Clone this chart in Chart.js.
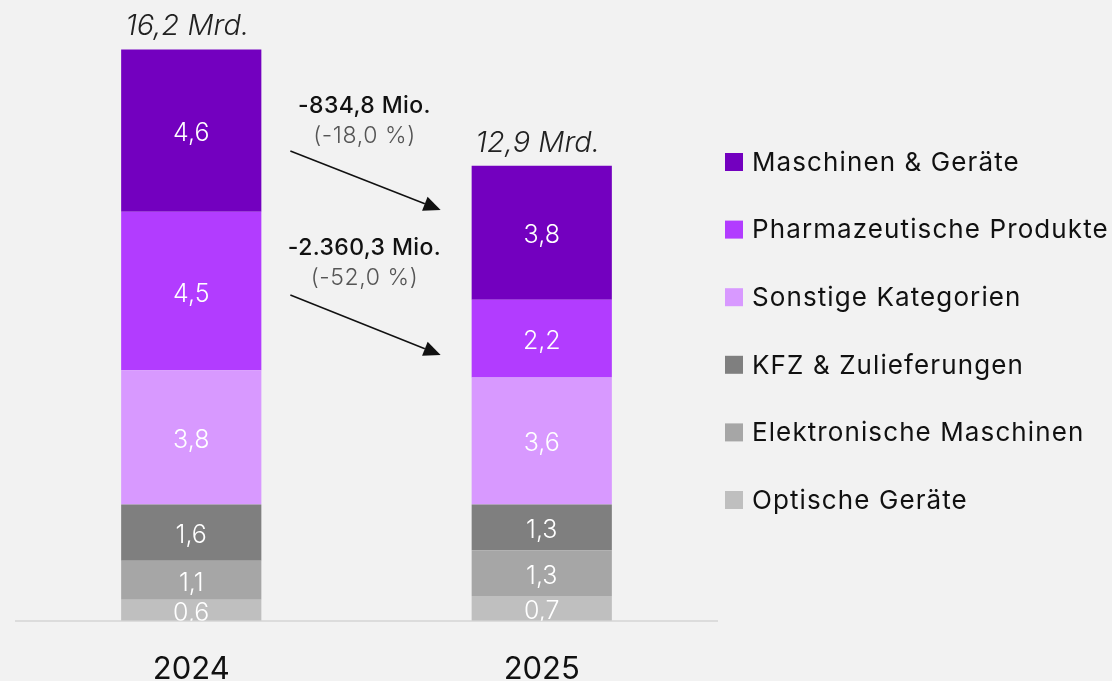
<!DOCTYPE html>
<html>
<head>
<meta charset="utf-8">
<script src="https://cdn.jsdelivr.net/npm/chart.js@4"></script>
<style>
  html, body { margin: 0; padding: 0; background: #f2f2f2; overflow: hidden; }
  #wrap { position: absolute; left: 0; top: 0; width: 1112px; height: 728px; }
</style>
</head>
<body>
<div id="wrap"><canvas id="c" width="1112" height="728"></canvas></div>
<script>
// ---- Data (values in Mrd. EUR) ----
const categories = ['2024', '2025'];
const optischeGeraete = [0.6, 0.7];
const elektronischeMaschinen = [1.1, 1.3];
const kfzZulieferungen = [1.6, 1.3];
const sonstigeKategorien = [3.8, 3.6];
const pharmaProdukte = [4.5, 2.2];
const maschinenGeraete = [4.6, 3.8];

const seriesLabels = ['Optische Geräte', 'Elektronische Maschinen', 'KFZ & Zulieferungen',
                      'Sonstige Kategorien', 'Pharmazeutische Produkte', 'Maschinen & Geräte'];
const seriesColors = ['#bfbfbf', '#a6a6a6', '#7f7f7f', '#d899ff', '#b23cff', '#7300bf'];

const changeAmounts = ['-834,8 Mio.', '-2.360,3 Mio.'];
const changePercents = ['(-18,0 %)', '(-52,0 %)'];

const seriesValues = [optischeGeraete, elektronischeMaschinen, kfzZulieferungen,
                      sonstigeKategorien, pharmaProdukte, maschinenGeraete];

const fmt = v => v.toFixed(1).replace('.', ',');

const datasets = seriesValues.map((vals, i) => ({
  label: seriesLabels[i],
  data: vals,
  backgroundColor: seriesColors[i],
  borderWidth: 0,
  categoryPercentage: 1.0,
  barPercentage: 0.4
}));

// Segment value labels + totals
const segmentLabels = {
  id: 'segmentLabels',
  afterDatasetsDraw(chart) {
    const ctx = chart.ctx, area = chart.chartArea;
    ctx.save();
    ctx.beginPath();
    ctx.rect(area.left, area.top, area.right - area.left, area.bottom - area.top);
    ctx.clip();
    ctx.font = '300 25px Inter';
    ctx.fillStyle = '#ffffff';
    ctx.textAlign = 'center';
    ctx.textBaseline = 'middle';
    chart.data.datasets.forEach((ds, di) => {
      const meta = chart.getDatasetMeta(di);
      meta.data.forEach((bar, i) => {
        const cy = (bar.y + bar.base) / 2 + 3;
        ctx.fillText(fmt(ds.data[i]), bar.x, cy);
      });
    });
    ctx.restore();

    ctx.save();
    ctx.font = 'italic 300 29px Inter';
    ctx.fillStyle = '#222222';
    ctx.textAlign = 'center';
    ctx.textBaseline = 'alphabetic';
    const topMeta = chart.getDatasetMeta(chart.data.datasets.length - 1);
    categories.forEach((c, i) => {
      const total = chart.data.datasets.reduce((s, ds) => s + ds.data[i], 0);
      const bar = topMeta.data[i];
      ctx.fillText(fmt(total) + ' Mrd.', bar.x - 4, bar.y - 14);
    });
    ctx.restore();
  }
};

// Change annotations with arrows
const changeAnnotations = {
  id: 'changeAnnotations',
  afterDraw(chart) {
    const ctx = chart.ctx;
    const m0 = chart.getDatasetMeta(0).data;
    const right0 = m0[0].x + m0[0].width / 2;
    const left1 = m0[1].x - m0[1].width / 2;
    const cx = (right0 + left1) / 2 - 2;
    const x0 = right0 + 29, x1 = left1 - 31;
    const rows = [
      { base: 113, a0: 151, a1: 210 },
      { base: 255, a0: 295, a1: 355 }
    ];
    rows.forEach((r, i) => {
      ctx.save();
      ctx.textAlign = 'center';
      ctx.textBaseline = 'alphabetic';
      ctx.font = '500 23px Inter';
      ctx.letterSpacing = '0.4px';
      ctx.fillStyle = '#111111';
      ctx.fillText(changeAmounts[i], cx, r.base);
      ctx.font = '300 23px Inter';
      ctx.letterSpacing = '0.6px';
      ctx.fillStyle = '#555555';
      ctx.fillText(changePercents[i], cx, r.base + 30);
      ctx.letterSpacing = '0px';
      const ang = Math.atan2(r.a1 - r.a0, x1 - x0);
      const hl = 17, hw = 7.5;
      const bx = x1 - hl * Math.cos(ang), by = r.a1 - hl * Math.sin(ang);
      ctx.strokeStyle = '#111111';
      ctx.lineWidth = 1.5;
      ctx.beginPath();
      ctx.moveTo(x0, r.a0);
      ctx.lineTo(bx, by);
      ctx.stroke();
      ctx.fillStyle = '#111111';
      ctx.beginPath();
      ctx.moveTo(x1, r.a1);
      ctx.lineTo(bx + hw * Math.sin(ang), by - hw * Math.cos(ang));
      ctx.lineTo(bx - hw * Math.sin(ang), by + hw * Math.cos(ang));
      ctx.closePath();
      ctx.fill();
      ctx.restore();
    });
  }
};

// Legend (top series first)
const sideLegend = {
  id: 'sideLegend',
  afterDraw(chart) {
    const ctx = chart.ctx;
    const ds = chart.data.datasets.slice().reverse();
    ctx.save();
    ctx.font = '400 26px Inter';
    ctx.letterSpacing = '1.1px';
    ctx.textAlign = 'left';
    ctx.textBaseline = 'middle';
    ds.forEach((d, i) => {
      const y = 162 + i * 67.6;
      ctx.fillStyle = d.backgroundColor;
      ctx.fillRect(725, y - 9, 18, 18);
      ctx.fillStyle = '#111111';
      ctx.fillText(d.label, 752, y + 1);
    });
    ctx.restore();
  }
};

new Chart(document.getElementById('c'), {
  type: 'bar',
  data: { labels: categories, datasets },
  options: {
    responsive: false,
    animation: false,
    events: [],
    layout: { padding: { left: 16, right: 395, top: 0, bottom: 10 } },
    plugins: { legend: { display: false }, tooltip: { enabled: false } },
    scales: {
      x: {
        stacked: true,
        grid: { display: false, drawTicks: false },
        border: { display: true, color: '#dcdcdc', width: 2 },
        ticks: { color: '#111111', font: { family: 'Inter', size: 31, weight: '400' }, padding: 30 }
      },
      y: {
        stacked: true,
        display: false,
        min: 0,
        max: 17.6
      }
    }
  },
  plugins: [segmentLabels, changeAnnotations, sideLegend]
});
</script>
</body>
</html>
